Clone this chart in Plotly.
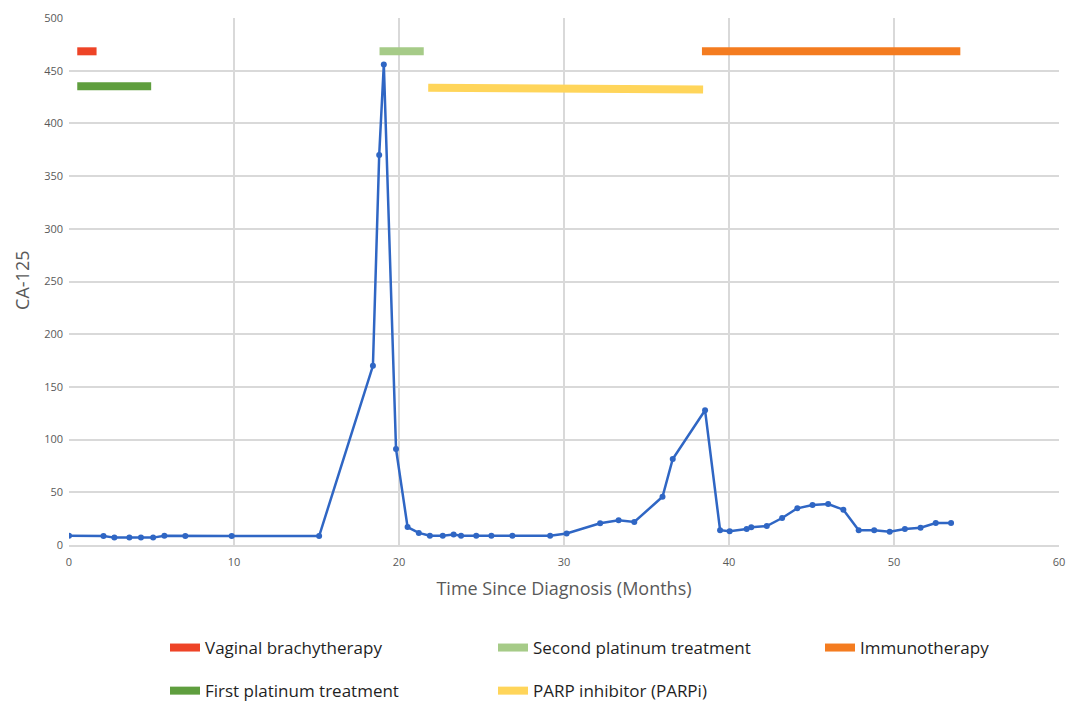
import plotly.graph_objects as go

# CA-125 series
months = [0, 2.09, 2.75, 3.66, 4.36, 5.1, 5.78, 7.05, 9.86, 15.16, 18.42, 18.8, 19.08,
          19.82, 20.52, 21.2, 21.87, 22.65, 23.31, 23.76, 24.68, 25.6, 26.87, 29.16,
          30.16, 32.19, 33.31, 34.26, 35.97, 36.59, 38.55, 39.46, 40.04, 41.07, 41.35,
          42.29, 43.22, 44.14, 45.06, 46.01, 46.93, 47.86, 48.8, 49.74, 50.66, 51.61,
          52.53, 53.46]
ca125 = [8.8, 8.5, 7, 7, 7, 7, 8.8, 8.5, 8.5, 8.5, 170, 370, 456,
         91, 17, 11.5, 8.8, 8.8, 10, 8.8, 8.8, 8.8, 8.8, 8.8,
         11, 20.6, 23.4, 21.8, 45.8, 81.6, 127.8, 14, 13, 15.2, 16.8,
         18, 25.6, 34.8, 38, 38.9, 33.5, 14, 14, 12.6, 15.2, 16.4,
         20.9, 20.9]

# Treatment periods (start, end months) and level on the CA-125 axis
treatments = ["Vaginal brachytherapy", "First platinum treatment",
              "Second platinum treatment", "PARP inhibitor (PARPi)", "Immunotherapy"]
t_start = [0.5, 0.5, 18.82, 21.77, 38.36]
t_end = [1.67, 4.98, 21.5, 38.43, 54.02]
t_level_start = [468.4, 435.2, 468.4, 433.8, 468.4]
t_level_end = [468.4, 435.2, 468.4, 432.2, 468.4]
t_colors = ["#EE4427", "#5F9E3E", "#A6CB88", "#FFD55A", "#F47C20"]
t_legend = ["legend", "legend", "legend2", "legend2", "legend3"]

fig = go.Figure()
for name, s, e, l0, l1, c, lg in zip(treatments, t_start, t_end, t_level_start,
                                     t_level_end, t_colors, t_legend):
    fig.add_trace(go.Scatter(x=[s, e], y=[l0, l1], mode="lines", name=name,
                             legendgroup=name, line=dict(color=c, width=8), legend=lg))

fig.add_trace(go.Scatter(x=months, y=ca125, mode="lines+markers", showlegend=False,
                         line=dict(color="#2F66C4", width=2.5),
                         marker=dict(color="#2F66C4", size=6)))

grid = "#D9D9D9"
tickfont = dict(family="Open Sans", size=11, color="#595959")
legfont = dict(family="Open Sans", size=17, color="#1F1F1F")


def leg(x):
    return dict(orientation="v", x=x, xanchor="left", xref="container",
                y=0.1013, yanchor="top", yref="container",
                tracegroupgap=18, font=legfont, bgcolor="rgba(0,0,0,0)")


fig.update_layout(
    width=1070, height=701,
    margin=dict(l=69, r=11, t=18, b=156, autoexpand=False),
    paper_bgcolor="white", plot_bgcolor="white",
    font=dict(family="Open Sans", color="#262626"),
    xaxis=dict(range=[0, 60], dtick=10, showgrid=True, gridcolor=grid, gridwidth=1.5,
               zeroline=False, showline=True, linecolor=grid, linewidth=1.5,
               tickfont=tickfont, ticks="", ticklabelstandoff=6, automargin=False,
               ticklabeloverflow="allow",
               title=dict(text="Time Since Diagnosis (Months)",
                          font=dict(family="Open Sans", size=18, color="#595959"),
                          standoff=14)),
    yaxis=dict(range=[0, 500], dtick=50, showgrid=True, gridcolor=grid, gridwidth=1.5,
               zeroline=False, showline=False, tickfont=tickfont, ticks="",
               ticklabelstandoff=5, automargin=False),
    annotations=[dict(text="CA-125", textangle=-90, xref="paper", yref="paper",
                      x=-0.0475, y=0.503, xanchor="center", yanchor="middle",
                      showarrow=False,
                      font=dict(family="Open Sans", size=18, color="#595959"))],
    legend=leg(165 / 1070),
    legend2=leg(493 / 1070),
    legend3=leg(820 / 1070),
)

fig.write_html("out.html", config={"displayModeBar": False},
               post_script="document.body.style.margin='0';")
